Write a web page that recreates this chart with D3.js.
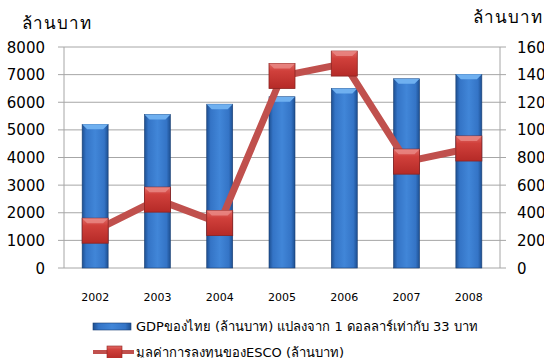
<!DOCTYPE html>
<html>
<head>
<meta charset="utf-8">
<script src="https://cdn.jsdelivr.net/npm/d3@7"></script>
<style>
  body { margin: 0; background: #fff; }
  svg text { font-family: Tahoma, "DejaVu Sans", "Noto Sans", sans-serif; fill: #000; }
</style>
</head>
<body>
<div id="chart"></div>
<script>
// data
const years = ["2002", "2003", "2004", "2005", "2006", "2007", "2008"];
const gdpValues = [5200, 5560, 5930, 6200, 6500, 6850, 7010];
const escoValues = [270, 495, 325, 1390, 1480, 770, 865];
const leftTicks = [0, 1000, 2000, 3000, 4000, 5000, 6000, 7000, 8000];
const rightTicks = [0, 200, 400, 600, 800, 1000, 1200, 1400, 1600];
const unitLabel = "ล้านบาท";
const gdpLabel = "GDPของไทย (ล้านบาท) แปลงจาก 1 ดอลลาร์เท่ากับ 33 บาท";
const escoLabel = "มูลค่าการลงทุนของESCO (ล้านบาท)";

const width = 544, height = 358;
const plotL = 64, plotR = 500, plotT = 47, plotB = 268;

const svg = d3.select("#chart").append("svg")
    .attr("width", width)
    .attr("height", height);

const defs = svg.append("defs");

// bar gradient (horizontal bevel look)
const bg = defs.append("linearGradient").attr("id", "barGrad")
    .attr("x1", "0").attr("x2", "1").attr("y1", "0").attr("y2", "0");
bg.append("stop").attr("offset", "0%").attr("stop-color", "#1d4f91");
bg.append("stop").attr("offset", "15%").attr("stop-color", "#3474c6");
bg.append("stop").attr("offset", "50%").attr("stop-color", "#4186d8");
bg.append("stop").attr("offset", "85%").attr("stop-color", "#3474c6");
bg.append("stop").attr("offset", "100%").attr("stop-color", "#1d4f91");

const mg = defs.append("linearGradient").attr("id", "markGrad")
    .attr("x1", "0").attr("x2", "0").attr("y1", "0").attr("y2", "1");
mg.append("stop").attr("offset", "0%").attr("stop-color", "#e06a66");
mg.append("stop").attr("offset", "30%").attr("stop-color", "#d0403b");
mg.append("stop").attr("offset", "100%").attr("stop-color", "#b52a27");

const x = d3.scaleBand().domain(years).range([plotL, plotR]).paddingInner(0).paddingOuter(0);
const yL = d3.scaleLinear().domain([0, 8000]).range([plotB, plotT]);
const yR = d3.scaleLinear().domain([0, 1600]).range([plotB, plotT]);

// gridlines
svg.append("g")
    .selectAll("line")
    .data(leftTicks)
    .join("line")
    .attr("x1", plotL - 6).attr("x2", plotR + 6)
    .attr("y1", d => yL(d)).attr("y2", d => yL(d))
    .attr("stroke", "#a6a6a6").attr("stroke-width", 1);

// axis lines
svg.append("line").attr("x1", plotL).attr("x2", plotL).attr("y1", plotT).attr("y2", plotB)
    .attr("stroke", "#a6a6a6");
svg.append("line").attr("x1", plotR).attr("x2", plotR).attr("y1", plotT).attr("y2", plotB)
    .attr("stroke", "#a6a6a6");

// left tick labels
svg.append("g").selectAll("text")
    .data(leftTicks)
    .join("text")
    .attr("x", 45).attr("y", d => yL(d) + 5.5)
    .attr("text-anchor", "end")
    .attr("font-size", "15px")
    .text(d => d);

// right tick labels (cut by the right edge, as in the original)
svg.append("g").selectAll("text")
    .data(rightTicks)
    .join("text")
    .attr("x", 517).attr("y", d => yR(d) + 5.5)
    .attr("text-anchor", "start")
    .attr("font-size", "15px")
    .text(d => d);

// unit titles
svg.append("text").attr("x", 22).attr("y", 29).attr("font-size", "17px")
    .attr("letter-spacing", "1px").text(unitLabel);
svg.append("text").attr("x", 473).attr("y", 23).attr("font-size", "17px")
    .attr("letter-spacing", "1px").text(unitLabel);

// bars
const barW = 26;
const bars = svg.append("g").selectAll("g")
    .data(years)
    .join("g");

bars.append("rect")
    .attr("x", d => x(d) + x.bandwidth() / 2 - barW / 2)
    .attr("y", (d, i) => yL(gdpValues[i]))
    .attr("width", barW)
    .attr("height", (d, i) => plotB - yL(gdpValues[i]))
    .attr("fill", "url(#barGrad)")
    .attr("stroke", "#1a3f73").attr("stroke-width", 0.6);

// top bevel highlight
bars.append("path")
    .attr("d", (d, i) => {
        const x0 = x(d) + x.bandwidth() / 2 - barW / 2, y0 = yL(gdpValues[i]);
        return `M${x0},${y0} L${x0 + barW},${y0} L${x0 + barW - 5},${y0 + 5} L${x0 + 5},${y0 + 5} Z`;
    })
    .attr("fill", "#6fb0f0");

// line
const line = d3.line()
    .x((d, i) => x(years[i]) + x.bandwidth() / 2)
    .y(d => yR(d));

svg.append("path")
    .datum(escoValues)
    .attr("d", line)
    .attr("fill", "none")
    .attr("stroke", "#c0504d")
    .attr("stroke-width", 7);

// markers
const mW = 26, mH = 25;
const marks = svg.append("g").selectAll("g")
    .data(escoValues)
    .join("g")
    .attr("transform", (d, i) => `translate(${x(years[i]) + x.bandwidth() / 2},${yR(d)})`);

marks.append("rect")
    .attr("x", -mW / 2).attr("y", -mH / 2)
    .attr("width", mW).attr("height", mH)
    .attr("fill", "url(#markGrad)")
    .attr("stroke", "#8c2320").attr("stroke-width", 0.8);
marks.append("path")
    .attr("d", `M${-mW / 2},${-mH / 2} L${mW / 2},${-mH / 2} L${mW / 2 - 5},${-mH / 2 + 5} L${-mW / 2 + 5},${-mH / 2 + 5} Z`)
    .attr("fill", "#ea8a86").attr("opacity", 0.8);

// x labels
svg.append("g").selectAll("text")
    .data(years)
    .join("text")
    .attr("x", d => x(d) + x.bandwidth() / 2)
    .attr("y", 301)
    .attr("text-anchor", "middle")
    .attr("font-size", "11px")
    .text(d => d);

// legend
svg.append("rect").attr("x", 93).attr("y", 323).attr("width", 38).attr("height", 7)
    .attr("fill", "url(#barGrad)").attr("stroke", "#1a3f73").attr("stroke-width", 0.6);
svg.append("text").attr("x", 136).attr("y", 331).attr("font-size", "13px").text(gdpLabel);

svg.append("line").attr("x1", 93).attr("x2", 134).attr("y1", 352).attr("y2", 352)
    .attr("stroke", "#c0504d").attr("stroke-width", 4);
svg.append("rect").attr("x", 107).attr("y", 346).attr("width", 15).attr("height", 13)
    .attr("fill", "url(#markGrad)").attr("stroke", "#8c2320").attr("stroke-width", 0.6);
svg.append("text").attr("x", 136).attr("y", 357).attr("font-size", "13px").text(escoLabel);
</script>
</body>
</html>
